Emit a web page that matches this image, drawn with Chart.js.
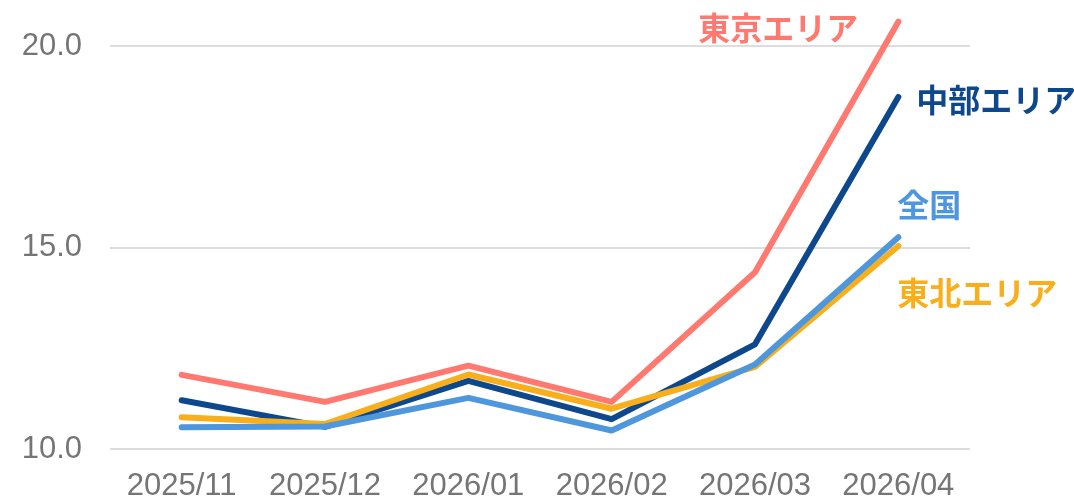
<!DOCTYPE html>
<html lang="ja">
<head>
<meta charset="utf-8">
<script src="https://cdn.jsdelivr.net/npm/chart.js@4"></script>
<style>
  html, body { margin: 0; padding: 0; background: #fff; }
  #wrap { width: 1074px; height: 499px; }
</style>
</head>
<body>
<div id="wrap"><canvas id="chart" width="1074" height="499"></canvas></div>
<script>
// データ
const months = ['2025/11', '2025/12', '2026/01', '2026/02', '2026/03', '2026/04'];
const tokyo = [11.84, 11.17, 12.07, 11.17, 14.39, 20.61];
const chubu = [11.21, 10.55, 11.69, 10.74, 12.60, 18.74];
const zenkoku = [10.54, 10.56, 11.27, 10.46, 12.10, 15.26];
const tohoku = [10.79, 10.62, 11.85, 11.00, 12.04, 15.04];
const yTicks = [10, 15, 20];

// 系列名の表示位置（最終点からのずれ）
const endLabels = {
  '東京エリア': { dx: -40, dy: 6, align: 'right' },
  '中部エリア': { dx: 18, dy: 3, align: 'left' },
  '全国': { dx: -1, dy: -32, align: 'left' },
  '東北エリア': { dx: -1, dy: 47, align: 'left' },
};

const endLabelPlugin = {
  id: 'endLabels',
  afterDatasetsDraw(chart) {
    const ctx = chart.ctx;
    ctx.save();
    ctx.font = 'bold 32px "Noto Sans CJK JP"';
    ctx.textBaseline = 'middle';
    chart.data.datasets.forEach((ds, i) => {
      const pts = chart.getDatasetMeta(i).data;
      const last = pts[pts.length - 1];
      const pos = endLabels[ds.label];
      ctx.fillStyle = ds.borderColor;
      ctx.textAlign = pos.align;
      ctx.fillText(ds.label, last.x + pos.dx, last.y + pos.dy);
    });
    ctx.restore();
  },
};

const line = (label, data, color) => ({
  label,
  data,
  borderColor: color,
  borderWidth: 6,
  borderCapStyle: 'round',
  borderJoinStyle: 'round',
  pointRadius: 0,
  tension: 0,
  fill: false,
});

new Chart(document.getElementById('chart'), {
  type: 'line',
  data: {
    labels: months,
    datasets: [
      line('全国', zenkoku, '#4F97DD'),
      line('東北エリア', tohoku, '#F8AF1B'),
      line('中部エリア', chubu, '#0E488C'),
      line('東京エリア', tokyo, '#FF7970'),
    ],
  },
  options: {
    responsive: false,
    animation: false,
    layout: { padding: { top: 6, right: 104, left: 0, bottom: 0 } },
    plugins: { legend: { display: false }, tooltip: { enabled: false } },
    scales: {
      x: {
        offset: true,
        grid: { display: false },
        border: { display: false },
        ticks: { color: '#757575', font: { family: '"Liberation Sans"', size: 31 }, padding: 11, maxRotation: 0 },
        afterFit: (s) => { s.height = 50; s.paddingLeft = 0; s.paddingRight = 0; },
      },
      y: {
        min: 10,
        max: 21,
        afterBuildTicks: (s) => { s.ticks = yTicks.map((v) => ({ value: v })); },
        afterFit: (s) => { s.width = 110; s.paddingTop = 0; s.paddingBottom = 0; },
        grid: { color: '#DDDDDD', lineWidth: 2, drawTicks: false },
        border: { display: false },
        ticks: {
          color: '#757575',
          font: { family: '"Liberation Sans"', size: 31 },
          padding: 28,
          callback: (v) => v.toFixed(1),
        },
      },
    },
  },
  plugins: [endLabelPlugin],
});
</script>
</body>
</html>
